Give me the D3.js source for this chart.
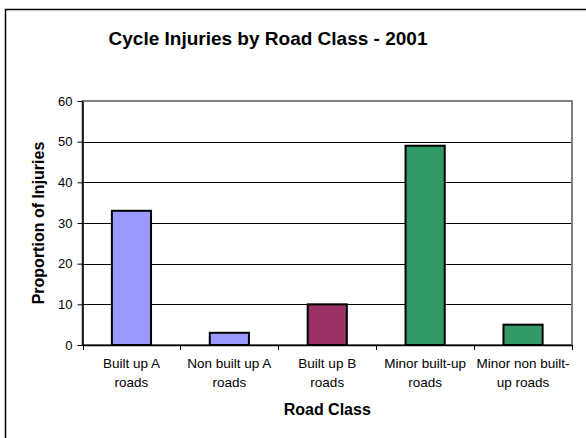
<!DOCTYPE html>
<html>
<head>
<meta charset="utf-8">
<script src="https://cdn.jsdelivr.net/npm/d3@7"></script>
<style>
  body { margin: 0; background: #fff; }
  text { font-family: "Liberation Sans", Arial, sans-serif; fill: #000; }
</style>
</head>
<body>
<svg id="chart" width="586" height="438"></svg>
<script>
"use strict";

var categories = [
  ["Built up A", "roads"],
  ["Non built up A", "roads"],
  ["Built up B", "roads"],
  ["Minor built-up", "roads"],
  ["Minor non built-", "up roads"]
];
var values = [33, 3, 10, 49, 5];
var colors = ["#9999ff", "#9999ff", "#993366", "#339966", "#339966"];
var yTicks = [0, 10, 20, 30, 40, 50, 60];

var svg = d3.select("#chart");

var plot_left = 82.5, plot_right = 572, plot_top = 101, plot_bottom = 345;

// outer chart frame, runs off the right/bottom of the picture
svg.append("rect")
  .attr("x", 5.5).attr("y", 9.5)
  .attr("width", 700).attr("height", 600)
  .attr("fill", "#fff")
  .attr("stroke", "#000")
  .attr("stroke-width", 1.5);

svg.append("text")
  .attr("x", 268).attr("y", 45)
  .attr("text-anchor", "middle")
  .style("font-size", "19px")
  .style("font-weight", "bold")
  .text("Cycle Injuries by Road Class - 2001");

var x = d3.scaleBand()
  .domain(d3.range(values.length))
  .range([plot_left, plot_right])
  .paddingInner(0)
  .paddingOuter(0);

var y = d3.scaleLinear()
  .domain([0, 60])
  .range([plot_bottom, plot_top]);

// gridlines
svg.append("g")
  .selectAll("line")
  .data(yTicks.filter(function (d) { return d > 0 && d < 60; }))
  .enter().append("line")
  .attr("x1", plot_left).attr("x2", plot_right)
  .attr("y1", function (d) { return Math.round(y(d)) + 0.5; })
  .attr("y2", function (d) { return Math.round(y(d)) + 0.5; })
  .attr("stroke", "#000")
  .attr("stroke-width", 1);

// plot border (gray)
svg.append("rect")
  .attr("x", plot_left).attr("y", plot_top)
  .attr("width", plot_right - plot_left).attr("height", plot_bottom - plot_top)
  .attr("fill", "none")
  .attr("stroke", "#808080")
  .attr("stroke-width", 2);

// bars
svg.append("g")
  .selectAll("rect")
  .data(values)
  .enter().append("rect")
  .attr("x", function (d, i) { return x(i) + x.bandwidth() * 0.3; })
  .attr("width", x.bandwidth() * 0.4)
  .attr("y", function (d) { return y(d); })
  .attr("height", function (d) { return y(0) - y(d); })
  .attr("fill", function (d, i) { return colors[i]; })
  .attr("stroke", "#000")
  .attr("stroke-width", 2);

// y axis
var yAxis = d3.axisLeft(y)
  .tickValues(yTicks)
  .tickSize(5)
  .tickSizeOuter(0)
  .tickPadding(5);

var gy = svg.append("g")
  .attr("transform", "translate(" + plot_left + ",0)")
  .call(yAxis);
gy.attr("font-family", null).attr("font-size", null);
gy.select(".domain").attr("stroke", "#000").attr("stroke-width", 1.5);
gy.selectAll(".tick line").attr("stroke", "#000");
gy.selectAll(".tick text")
  .style("font-size", "13px")
  .attr("fill", "#000");

// x axis: ticks at category boundaries
var xAxisLine = svg.append("g");
xAxisLine.append("line")
  .attr("x1", plot_left).attr("x2", plot_right)
  .attr("y1", plot_bottom + 0.5).attr("y2", plot_bottom + 0.5)
  .attr("stroke", "#000").attr("stroke-width", 1.5);
xAxisLine.selectAll(".xt")
  .data(d3.range(values.length + 1))
  .enter().append("line")
  .attr("class", "xt")
  .attr("x1", function (i) { return Math.round(plot_left + i * x.step()) + 0.5; })
  .attr("x2", function (i) { return Math.round(plot_left + i * x.step()) + 0.5; })
  .attr("y1", plot_bottom).attr("y2", plot_bottom + 5)
  .attr("stroke", "#000");

// category labels
var labels = svg.append("g")
  .selectAll("text")
  .data(categories)
  .enter().append("text")
  .attr("text-anchor", "middle")
  .style("font-size", "13.5px")
  .attr("transform", function (d, i) {
    return "translate(" + (x(i) + x.bandwidth() / 2) + ",368)";
  });
labels.selectAll("tspan")
  .data(function (d) { return d; })
  .enter().append("tspan")
  .attr("x", 0)
  .attr("y", function (d, j) { return j * 18.5; })
  .text(function (d) { return d; });

svg.append("text")
  .attr("x", (plot_left + plot_right) / 2).attr("y", 415)
  .attr("text-anchor", "middle")
  .style("font-size", "16px")
  .style("font-weight", "bold")
  .text("Road Class");

svg.append("text")
  .attr("transform", "translate(44," + ((plot_top + plot_bottom) / 2) + ") rotate(-90)")
  .attr("text-anchor", "middle")
  .style("font-size", "16px")
  .style("font-weight", "bold")
  .text("Proportion of Injuries");
</script>
</body>
</html>
